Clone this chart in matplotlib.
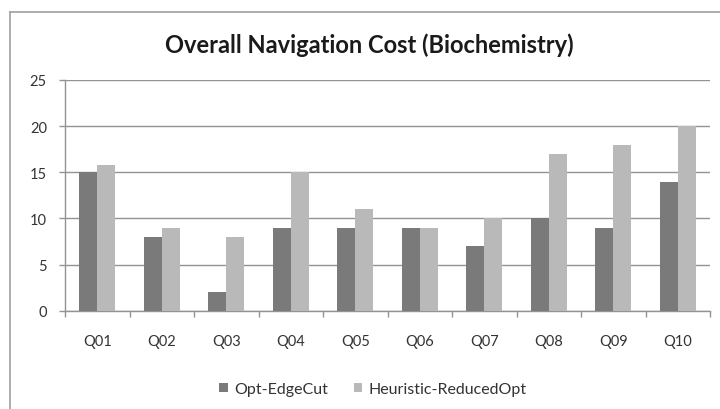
import matplotlib
matplotlib.use("Agg")
import matplotlib.pyplot as plt
import numpy as np
from matplotlib.lines import Line2D

categories = ["Q01", "Q02", "Q03", "Q04", "Q05", "Q06", "Q07", "Q08", "Q09", "Q10"]
opt_edgecut = [15, 8, 2, 9, 9, 9, 7, 10, 9, 14]
heuristic = [15.8, 9, 8, 15, 11, 9, 10, 17, 18, 20]
series_names = ["Opt-EdgeCut", "Heuristic-ReducedOpt"]
yticks = [0, 5, 10, 15, 20, 25]

plt.rcParams['font.family'] = ['Lato', 'DejaVu Sans']

fig = plt.figure(figsize=(7.2, 4.1), dpi=100)
ax = fig.add_axes([65/720, 1-311.7/410, (710-65)/720, (311.7-81)/410])

dark = "#7a7a7a"
light = "#b9b9b9"
grid_c = "#939393"

x = np.arange(len(categories))
w = 0.28
ax.bar(x - w/2, opt_edgecut, w, color=dark, label=series_names[0], zorder=3)
ax.bar(x + w/2, heuristic, w, color=light, label=series_names[1], zorder=3)

ax.set_xlim(-0.5, len(categories) - 0.5)
ax.set_ylim(0, 25)
ax.set_yticks(yticks)
ax.set_yticklabels([str(v) for v in yticks], fontsize=10.5, color="#333333")
ax.yaxis.grid(True, color=grid_c, linewidth=1, zorder=0)
ax.set_axisbelow(True)

ax.set_xticks(x)
ax.set_xticklabels(categories, fontsize=10.5, color="#333333")
ax.tick_params(axis='x', which='major', length=0, pad=17)
ax.set_xticks(np.arange(-0.5, len(categories), 1), minor=True)
ax.tick_params(axis='x', which='minor', length=4, color=grid_c, width=1)
ax.tick_params(axis='y', length=4, color=grid_c, width=1, pad=9)

for s in ["top", "right"]:
    ax.spines[s].set_visible(False)
for s in ["left", "bottom"]:
    ax.spines[s].set_color(grid_c)
    ax.spines[s].set_linewidth(1)

fig.text(369/720, 1-45/410, "Overall Navigation Cost (Biochemistry)", ha="center", va="center",
         fontsize=17, fontweight="bold", color="#1a1a1a")

leg = fig.legend(loc="center", bbox_to_anchor=(373/720, 1-390/410), ncol=2, frameon=False,
                 fontsize=11.5, handlelength=0.55, handleheight=0.55, handletextpad=0.4,
                 columnspacing=1.6)
for t in leg.get_texts():
    t.set_color("#333333")

# outer chart border (cropped at right/bottom)
fig.add_artist(Line2D([10/720, 10/720], [0, 1-13/410], color="#a0a0a0", linewidth=1.2,
                      transform=fig.transFigure))
fig.add_artist(Line2D([10/720, 1], [1-13/410, 1-13/410], color="#a0a0a0", linewidth=1.2,
                      transform=fig.transFigure))

fig.savefig("out.png", dpi=100)
